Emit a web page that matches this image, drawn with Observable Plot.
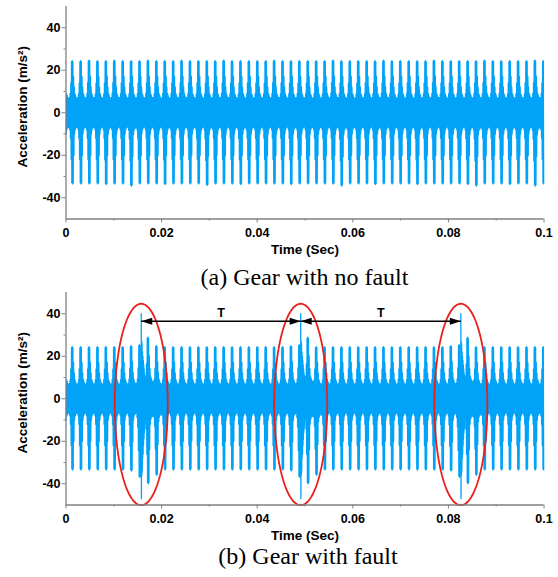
<!DOCTYPE html>
<html><head><meta charset="utf-8">
<script src="https://cdn.jsdelivr.net/npm/d3@7"></script>
<script src="https://cdn.jsdelivr.net/npm/@observablehq/plot@0.6"></script>
<style>
body{margin:0;background:#fff;}
#wrap{position:relative;width:558px;height:577px;overflow:hidden;background:#fff;}
#wrap svg{position:absolute;left:0;background:transparent;}
.cap{position:absolute;font-family:"Liberation Serif","Times New Roman",serif;font-size:24px;line-height:18px;white-space:nowrap;transform:translateX(-50%);color:#000;}
</style></head><body>
<div id="wrap"></div>
<script>
// ---------- data ----------
const xDomain = [0, 0.1];
const yDomain = [-50, 50];
const xTicks = [0, 0.02, 0.04, 0.06, 0.08, 0.1];
const xTickLabels = ["0", "0.02", "0.04", "0.06", "0.08", "0.1"];
const xMinorTicks = [0.01, 0.03, 0.05, 0.07, 0.09];
const yTicks = [-40, -20, 0, 20, 40];
const yTickLabels = ["-40", "-20", "0", "20", "40"];
const yMinorTicks = [-30, -10, 10, 30];
const xLabel = "Time (Sec)";
const yLabel = "Acceleration (m/s²)";
const captions = ["(a) Gear with no fault", "(b) Gear with fault"];

// time (s) of the main spike of each tooth-mesh cycle (first one lies just before 0)
const meshTimes = [-0.00061, 0.00115, 0.00291, 0.00467, 0.00643, 0.00819, 0.00995, 0.01171, 0.01347, 0.01523,
  0.01699, 0.01875, 0.02051, 0.02227, 0.02403, 0.02579, 0.02755, 0.02931, 0.03107, 0.03283,
  0.03459, 0.03635, 0.03811, 0.03987, 0.04163, 0.04339, 0.04515, 0.04691, 0.04867, 0.05043,
  0.05219, 0.05395, 0.05571, 0.05747, 0.05923, 0.06099, 0.06275, 0.06451, 0.06627, 0.06803,
  0.06979, 0.07155, 0.07331, 0.07507, 0.07683, 0.07859, 0.08035, 0.08211, 0.08387, 0.08563,
  0.08739, 0.08915, 0.09091, 0.09267, 0.09443, 0.09619, 0.09795, 0.09971];
// samples of one mesh cycle (m/s²); main spike starts at index 6
const cycleShape = [7, -8, 9, -12, 14, -22, 24, -33, 24.5, -33.5, 24, -33, 17, -20, 12, -10, 9, -8, 8, -7, 7, -7, 7, -6];
const sampleStep = 0.0000733;
const spikeIndex = 6;

// per-cycle positive / negative peak (m/s²)
const peakUpA = [24.5, 24.5, 24.5, 24.8, 24.5, 24.5, 24.8, 24.5, 24.5, 24.5,
  24.8, 24.5, 24.5, 24.5, 24.8, 24.5, 24.5, 24.5, 24.5, 24.8,
  24.5, 24.5, 24.5, 24.5, 24.5, 24.8, 24.5, 24.5, 24.5, 24.5,
  24.5, 24.5, 24.8, 24.5, 24.5, 24.5, 24.5, 24.5, 24.8, 24.5,
  24.5, 24.5, 24.5, 24.5, 24.8, 24.5, 24.5, 24.5, 24.5, 24.5,
  24.8, 24.5, 24.5, 24.5, 24.5, 24.5, 24.8, 24.5];
const peakDownA = [-33.5, -33.5, -33.5, -33.5, -33.5, -33.8, -33.5, -33.5, -34.5, -33.5,
  -33.5, -33.5, -33.8, -33.5, -33.5, -33.5, -33.5, -34.2, -33.5, -33.5,
  -33.5, -33.8, -33.5, -33.5, -33.5, -33.5, -33.5, -33.8, -33.5, -33.5,
  -33.5, -33.5, -33.5, -34.5, -33.5, -33.5, -33.5, -33.8, -33.5, -33.5,
  -33.5, -33.5, -33.8, -33.5, -33.5, -33.5, -33.5, -33.5, -33.8, -34.5,
  -33.5, -33.5, -33.5, -33.8, -33.5, -33.5, -34.5, -33.5];
const peakUpB = [24.5, 24.5, 24.5, 24.5, 24.5, 24.5, 24.5, 24.5, 25, 25.5,
  29, 25, 24.5, 24.5, 24.5, 24.5, 24.5, 24.5, 24.5, 24.5,
  24.5, 24.5, 24.5, 24.5, 24.5, 24.5, 24.5, 25, 25.5, 29,
  24.5, 24.5, 24.5, 24.5, 24.5, 24.5, 24.5, 24.5, 24.5, 24.5,
  24.5, 24.5, 24.5, 24.5, 24.5, 24.5, 25, 25.5, 29, 24.5,
  24.5, 24.5, 24.5, 24.5, 24.5, 24.5, 24.5, 24.5];
const peakDownB = [-33.5, -33.5, -33.5, -33.5, -33.5, -33.5, -33.5, -33.5, -34, -37,
  -40, -36, -33.5, -33.5, -33.5, -33.5, -33.5, -33.5, -33.5, -33.5,
  -33.5, -33.5, -33.5, -33.5, -33.5, -33.5, -33.5, -34, -37, -40,
  -36, -33.5, -33.5, -33.5, -33.5, -33.5, -33.5, -33.5, -33.5, -33.5,
  -33.5, -33.5, -33.5, -33.5, -33.5, -33.5, -34, -37, -40, -36,
  -33.5, -33.5, -33.5, -33.5, -33.5, -33.5, -33.5, -33.5];

// fault impacts (gear with fault)
const faultTimes = [0.01574, 0.0491, 0.0826];
const faultShape = [40, -47, 27, -36, 26, -34, 22, -28, 20, -26, 18, -22, 16, -19, 14, -16, 12, -14, 11, -12, 10, -10, 9, -9];
const ellipseCenterY = -2.7;
const ellipseRadiusX = 0.00555;
const ellipseRadiusY = 47.4;
const arrowY = 36.5;
const periodLabel = "T";
const periodLabelY = 40.5;

// ---------- build ----------
const FONT = "'Liberation Sans', Arial, sans-serif";
const BLUE = "#00a3f7";
const AXIS = "#808080";
const RED = "#e8201c";

function buildSignal(ups, downs) {
  const pts = [];
  meshTimes.forEach((t0, k) => {
    cycleShape.forEach((v, i) => {
      const t = t0 + (i - spikeIndex) * sampleStep;
      const a = v > 0 ? v * ups[k] / 24.5 : v * downs[k] / -33.5;
      if (t >= xDomain[0] && t <= xDomain[1]) pts.push({t, a});
    });
  });
  return pts;
}

function axisMarks() {
  return [
    Plot.ruleX([xDomain[0]], {stroke: AXIS, strokeWidth: 1.3}),
    Plot.ruleY([yDomain[0]], {stroke: AXIS, strokeWidth: 1.3}),
    Plot.axisX(xTicks, {label: null, tickSize: 4, tickPadding: 5.5, stroke: AXIS, fill: "#000",
      tickFormat: d => xTickLabels[xTicks.indexOf(d)], fontSize: 12.5, fontWeight: "bold"}),
    Plot.axisX(xMinorTicks, {label: null, tickSize: 2, stroke: AXIS, tickFormat: () => ""}),
    Plot.axisY(yTicks, {label: null, tickSize: 4, tickPadding: 1.5, stroke: AXIS, fill: "#000",
      tickFormat: d => yTickLabels[yTicks.indexOf(d)], fontSize: 12.5, fontWeight: "bold"}),
    Plot.axisY(yMinorTicks, {label: null, tickSize: 2, stroke: AXIS, tickFormat: () => ""}),
    Plot.text([xLabel], {text: d => d, frameAnchor: "bottom", dy: 35, fontSize: 13.5, fontWeight: "bold", fill: "#000"}),
    Plot.text([yLabel], {text: d => d, frameAnchor: "left", textAnchor: "middle", dx: -43.5, dy: -6, rotate: -90, fontSize: 13.5, fontWeight: "bold", fill: "#000"})
  ];
}

function makePanel(signal, extras) {
  return Plot.plot({
    width: 558, height: 262,
    marginLeft: 65.5, marginRight: 14.5, marginTop: 6, marginBottom: 43.5,
    x: {domain: xDomain, axis: null, label: null},
    y: {domain: yDomain, axis: null, label: null},
    style: {fontFamily: FONT, background: "transparent", overflow: "visible", color: "#000"},
    marks: [
      Plot.line(signal, {x: "t", y: "a", stroke: BLUE, strokeWidth: 1.3}),
      ...extras,
      ...axisMarks()
    ]
  });
}

// panel (a)
const sigA = buildSignal(peakUpA, peakDownA);
const svgA = makePanel(sigA, []);

// panel (b)
const sigB = buildSignal(peakUpB, peakDownB);
const faultPts = [];
faultTimes.forEach((tf, f) => faultShape.forEach((v, i) => faultPts.push({t: tf + i * sampleStep * 0.6, a: v, f})));
const ellipsePts = [];
faultTimes.forEach((tf, f) => {
  for (let deg = 0; deg <= 360; deg += 3) {
    const th = deg * Math.PI / 180;
    ellipsePts.push({t: tf + ellipseRadiusX * Math.cos(th), a: ellipseCenterY + ellipseRadiusY * Math.sin(th), f});
  }
});
const arrows = faultTimes.slice(1).map((t2, i) => ({t1: faultTimes[i], t2}));
const headLeft = {draw(ctx) { ctx.moveTo(0, 0); ctx.lineTo(11, -3.5); ctx.lineTo(11, 3.5); ctx.closePath(); }};
const headRight = {draw(ctx) { ctx.moveTo(0, 0); ctx.lineTo(-11, -3.5); ctx.lineTo(-11, 3.5); ctx.closePath(); }};

const svgB = makePanel(sigB, [
  Plot.line(faultPts, {x: "t", y: "a", z: "f", stroke: BLUE, strokeWidth: 1.3}),
  Plot.line(ellipsePts, {x: "t", y: "a", z: "f", stroke: RED, strokeWidth: 1.8}),
  Plot.link(arrows, {x1: "t1", x2: "t2", y1: () => arrowY, y2: () => arrowY, stroke: "#000", strokeWidth: 1.5}),
  Plot.dot(arrows, {x: "t1", y: () => arrowY, symbol: headLeft, r: 4, fill: "#000", stroke: "none"}),
  Plot.dot(arrows, {x: "t2", y: () => arrowY, symbol: headRight, r: 4, fill: "#000", stroke: "none"}),
  Plot.text(arrows, {x: d => (d.t1 + d.t2) / 2, y: () => periodLabelY, text: () => periodLabel, fontSize: 12.5, fontWeight: "bold", fill: "#000"})
]);

const wrap = document.getElementById("wrap");
svgA.style.top = "0px";
svgB.style.top = "285.5px";
wrap.appendChild(svgA);
wrap.appendChild(svgB);
[[captions[0], 304.5, 267.5], [captions[1], 308, 546.5]].forEach(([txt, cx, top]) => {
  const d = document.createElement("div");
  d.className = "cap";
  d.textContent = txt;
  d.style.left = cx + "px";
  d.style.top = top + "px";
  wrap.appendChild(d);
});
</script></body></html>
